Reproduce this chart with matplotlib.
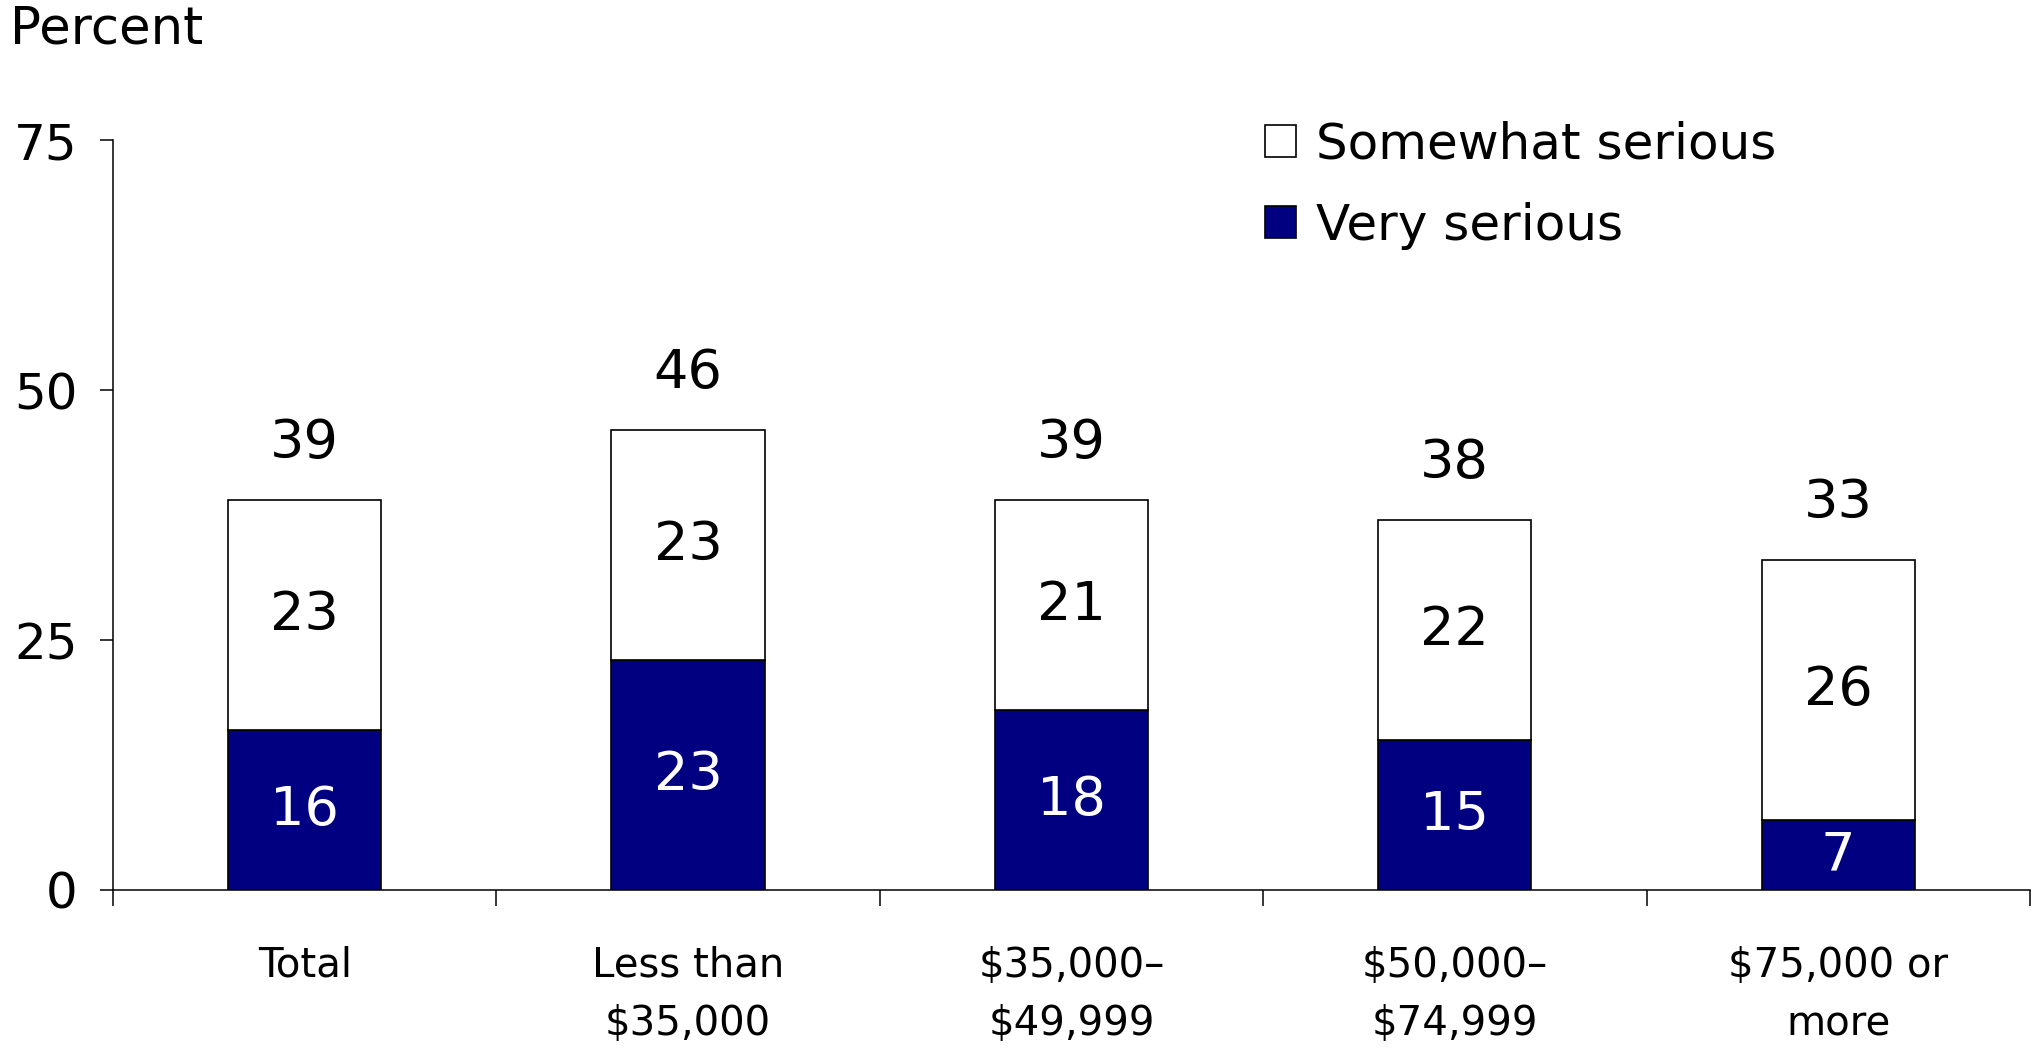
import matplotlib.pyplot as plt
import numpy as np

# survey shares by household income
categories = ["Total", "Less than\n$35,000", "$35,000\u2013\n$49,999",
              "$50,000\u2013\n$74,999", "$75,000 or\nmore"]
very_serious = [16, 23, 18, 15, 7]
somewhat_serious = [23, 23, 21, 22, 26]
totals = [39, 46, 39, 38, 33]
y_ticks = [0, 25, 50, 75]

navy = "#000080"

fig = plt.figure(figsize=(20.37, 10.56), dpi=100)
ax = fig.add_axes([0.0555, 0.1572, 0.941, 0.7102])

x = np.arange(len(categories))
w = 0.4
b1 = ax.bar(x, very_serious, w, color=navy, edgecolor="black", linewidth=1.2)
b2 = ax.bar(x, somewhat_serious, w, bottom=very_serious, color="white",
            edgecolor="black", linewidth=1.2)

for i in range(len(x)):
    ax.text(x[i], very_serious[i] / 2, str(very_serious[i]), ha="center",
            va="center", color="white", fontsize=39)
    ax.text(x[i], very_serious[i] + somewhat_serious[i] / 2,
            str(somewhat_serious[i]), ha="center", va="center",
            color="black", fontsize=39)
    ax.annotate(str(totals[i]), (x[i], very_serious[i] + somewhat_serious[i]),
                xytext=(0, 41), textcoords="offset points", ha="center",
                va="center", fontsize=39)

ax.set_xlim(-0.5, len(categories) - 0.5)
ax.set_ylim(0, 75)
ax.set_yticks(y_ticks)
ax.tick_params(axis="y", length=9.5, width=1.1, pad=16, labelsize=36)

ax.set_xticks(x)
ax.set_xticklabels(categories, fontsize=29, linespacing=1.6)
ax.set_xticks(np.arange(-0.5, len(categories)), minor=True)
ax.tick_params(axis="x", which="major", length=0, pad=40)
ax.tick_params(axis="x", which="minor", length=11.5, width=1.1)

for s in ["top", "right"]:
    ax.spines[s].set_visible(False)
for s in ["left", "bottom"]:
    ax.spines[s].set_linewidth(1.1)

fig.text(10 / 2037, 1 - 29 / 1056, "Percent", fontsize=37, va="center")

ax.legend([b2, b1], ["Somewhat serious", "Very serious"], loc="upper left",
          bbox_to_anchor=(0.601, 1.026), frameon=False, fontsize=36,
          handlelength=0.62, handleheight=0.62, handletextpad=0.4,
          labelspacing=0.66, borderpad=0, borderaxespad=0)

fig.savefig("out.png", dpi=100, facecolor="white")
